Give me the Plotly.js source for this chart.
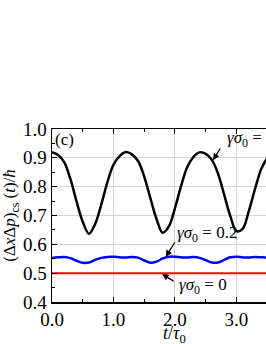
<!DOCTYPE html>
<html>
<head>
<meta charset="utf-8">
<script src="https://cdn.plot.ly/plotly-3.0.1.min.js"></script>
<style>html,body{margin:0;padding:0;background:#fff;}#chart{width:266px;height:344px;}</style>
</head>
<body>
<div id="chart"></div>
<script>
var tVals = [0.0,0.1,0.2,0.3,0.4,0.5,0.6,0.7,0.8,0.9,1.0,1.1,1.2,1.3,1.4,1.5,1.6,1.7,1.8,1.9,2.0,2.1,2.2,2.3,2.4,2.5,2.6,2.7,2.8,2.9,3.0,3.1,3.2,3.3,3.4,3.5];
var blackVals = [0.920,0.910,0.884,0.826,0.748,0.678,0.637,0.670,0.737,0.815,0.876,0.906,0.920,0.912,0.889,0.835,0.760,0.688,0.640,0.662,0.726,0.803,0.868,0.903,0.919,0.914,0.893,0.845,0.772,0.698,0.646,0.654,0.715,0.791,0.860,0.900];
var blueVals = [0.553,0.555,0.556,0.552,0.543,0.536,0.537,0.546,0.553,0.556,0.557,0.555,0.554,0.556,0.554,0.544,0.536,0.540,0.551,0.557,0.557,0.555,0.554,0.556,0.553,0.545,0.537,0.537,0.546,0.555,0.557,0.555,0.554,0.556,0.555,0.554];
var redT = [0.0, 3.5];
var redVals = [0.5, 0.5];
var xTicks = [0, 1, 2, 3];
var xTickText = ['0.0','1.0','2.0','3.0'];
var yTicks = [0.4,0.5,0.6,0.7,0.8,0.9,1.0];
var yTickText = ['0.4','0.5','0.6','0.7','0.8','0.9','1.0'];

var serif = 'Liberation Serif, Times New Roman, serif';
var traces = [
  {x: redT, y: redVals, mode:'lines', line:{color:'#ff0000', width:2}, hoverinfo:'skip'},
  {x: tVals, y: blueVals, mode:'lines', line:{color:'#0000ff', width:2.5, shape:'spline'}, hoverinfo:'skip'},
  {x: tVals, y: blackVals, mode:'lines', line:{color:'#000000', width:2.5, shape:'spline'}, hoverinfo:'skip'}
];
var fA = {family: serif, size: 17, color:'#000'};
var layout = {
  width: 266, height: 344,
  margin: {l: 52, r: 0, t: 129, b: 42, pad: 0},
  paper_bgcolor:'#fff', plot_bgcolor:'#fff',
  showlegend: false,
  xaxis: {
    range: [0, 3.48], tickvals: xTicks, ticktext: xTickText,
    ticks:'inside', ticklen:5, tickwidth:1, tickcolor:'#000',
    showline:true, linecolor:'#000', linewidth:1.5, mirror:'ticks',
    showgrid:true, gridcolor:'#d4d4d4', gridwidth:1, zeroline:false,
    tickfont:{family:serif, size:19, color:'#000'},
    minor:{dtick:0.5, tick0:0, ticks:'inside', ticklen:3, tickcolor:'#000', showgrid:false}
  },
  yaxis: {
    range: [0.4, 1.0], tickvals: yTicks, ticktext: yTickText,
    ticks:'inside', ticklen:5, tickwidth:1, tickcolor:'#000',
    showline:true, linecolor:'#000', linewidth:1.5, mirror:false,
    showgrid:true, gridcolor:'#d4d4d4', gridwidth:1, zeroline:false,
    tickfont:{family:serif, size:19, color:'#000'},
    minor:{dtick:0.05, tick0:0.4, ticks:'inside', ticklen:3, tickcolor:'#000', showgrid:false},
    title:{text:'(Δ<i>x</i>Δ<i>p</i>)<sub>cs</sub> (<i>t</i>)/<i>ħ</i>', font:{family:serif, size:17, color:'#000'}, standoff: 6}
  },
  annotations: [
    {x:0.02, y:0.963, xref:'x', yref:'y', text:'(c)', showarrow:false, xanchor:'left', yanchor:'middle', font:fA},
    {x:2.81, y:0.965, xref:'x', yref:'y', text:'<i>γσ</i><sub>0</sub> = 0.4', showarrow:false, xanchor:'left', yanchor:'middle', font:fA},
    {x:2.62, y:0.892, xref:'x', yref:'y', text:'', showarrow:true, ax:8, ay:-13, arrowhead:2, arrowsize:1, arrowwidth:1.3, arrowcolor:'#000'},
    {x:2.0, y:0.636, xref:'x', yref:'y', text:'<i>γσ</i><sub>0</sub> = 0.2', showarrow:false, xanchor:'left', yanchor:'middle', font:fA},
    {x:1.85, y:0.557, xref:'x', yref:'y', text:'', showarrow:true, ax:10, ay:-16, arrowhead:2, arrowsize:1, arrowwidth:1.3, arrowcolor:'#000'},
    {x:2.03, y:0.455, xref:'x', yref:'y', text:'<i>γσ</i><sub>0</sub> = 0', showarrow:false, xanchor:'left', yanchor:'middle', font:fA},
    {x:1.79, y:0.497, xref:'x', yref:'y', text:'', showarrow:true, ax:13, ay:8, arrowhead:2, arrowsize:1, arrowwidth:1.3, arrowcolor:'#000'},
    {x:2.0, y:0, xref:'x', yref:'paper', yshift:-32, text:'<i>t</i>/<i>τ</i><sub>0</sub>', showarrow:false, xanchor:'center', yanchor:'middle', font:{family:serif, size:18, color:'#000'}}
  ]
};
Plotly.newPlot('chart', traces, layout, {staticPlot:true, displayModeBar:false});
</script>
</body>
</html>
